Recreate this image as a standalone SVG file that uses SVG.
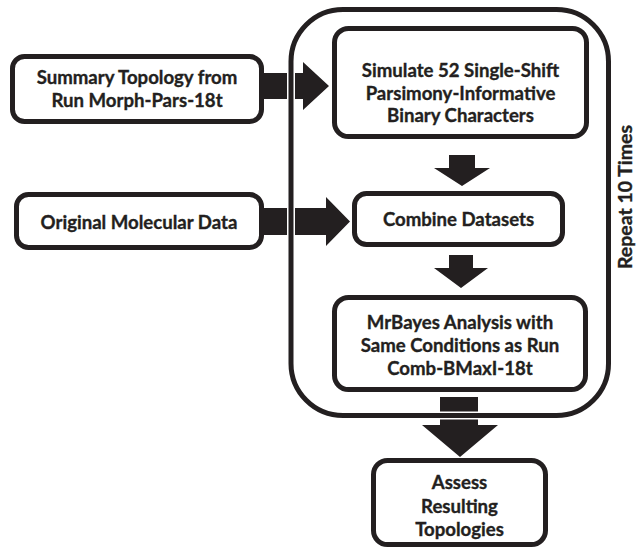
<svg xmlns="http://www.w3.org/2000/svg" width="641" height="550" viewBox="0 0 641 550">
<style>
.box{fill:#fff;stroke:#231f20;stroke-width:5}
.arr{fill:#231f20;stroke:none}
.halo{fill:none;stroke:#fff;stroke-width:8}
.loop{fill:none;stroke:#231f20;stroke-width:5}
text{font-family:Lato,"Open Sans","DejaVu Sans",sans-serif;font-weight:bold;font-size:18.6px;fill:#231f20;stroke:#231f20;stroke-width:0.35;text-anchor:middle}
</style>
<rect width="641" height="550" fill="#fff"/>
<g id="connectors">
<polygon class="arr" points="262,73 303,73 303,62 329,86 303,110 303,99 262,99"/>
<polygon class="arr" points="262,208 326,208 326,197 350,221.5 326,246 326,235 262,235"/>
<polygon class="arr" points="449,155 475,155 475,168 490,168 462,186 434,168 449,168"/>
<polygon class="arr" points="449,255 473,255 473,268 488,268 461,288 434,268 449,268"/>
<polygon class="arr" points="440,397 478,397 478,425 498,425 460,457 422,425 440,425"/>
</g>
<g id="loop">
<rect class="halo" x="291" y="9.5" width="317.5" height="406" rx="52"/>
<rect class="loop" x="291" y="9.5" width="317.5" height="406" rx="52"/>
<text transform="translate(632,197) rotate(-90)" x="0" y="0" style="font-size:19.5px">Repeat 10 Times</text>
</g>
<g id="summary">
<rect class="box" x="12.5" y="56.5" width="249" height="65" rx="12"/>
<text x="137" y="83.5">Summary Topology from</text>
<text x="137" y="106.5">Run Morph-Pars-18t</text>
</g>
<g id="simulate">
<rect class="box" x="334.5" y="28.5" width="252" height="108" rx="14"/>
<text x="460.5" y="76.5">Simulate 52 Single-Shift</text>
<text x="460.5" y="99.5">Parsimony-Informative</text>
<text x="460.5" y="121.5">Binary Characters</text>
</g>
<g id="original">
<rect class="box" x="16.5" y="194.5" width="245" height="53" rx="12"/>
<text x="139" y="228.5">Original Molecular Data</text>
</g>
<g id="combine">
<rect class="box" x="354.5" y="193.5" width="208" height="51" rx="12"/>
<text x="458.5" y="225.5">Combine Datasets</text>
</g>
<g id="mrbayes">
<rect class="box" x="334.5" y="297.5" width="251" height="92" rx="14"/>
<text x="460" y="328.5">MrBayes Analysis with</text>
<text x="460" y="351.5">Same Conditions as Run</text>
<text x="460" y="374.5">Comb-BMaxI-18t</text>
</g>
<g id="assess">
<rect class="box" x="373.5" y="460.5" width="172" height="84" rx="14"/>
<text x="459.5" y="488.5">Assess</text>
<text x="459.5" y="512.5">Resulting</text>
<text x="459.5" y="535.5">Topologies</text>
</g>
</svg>
